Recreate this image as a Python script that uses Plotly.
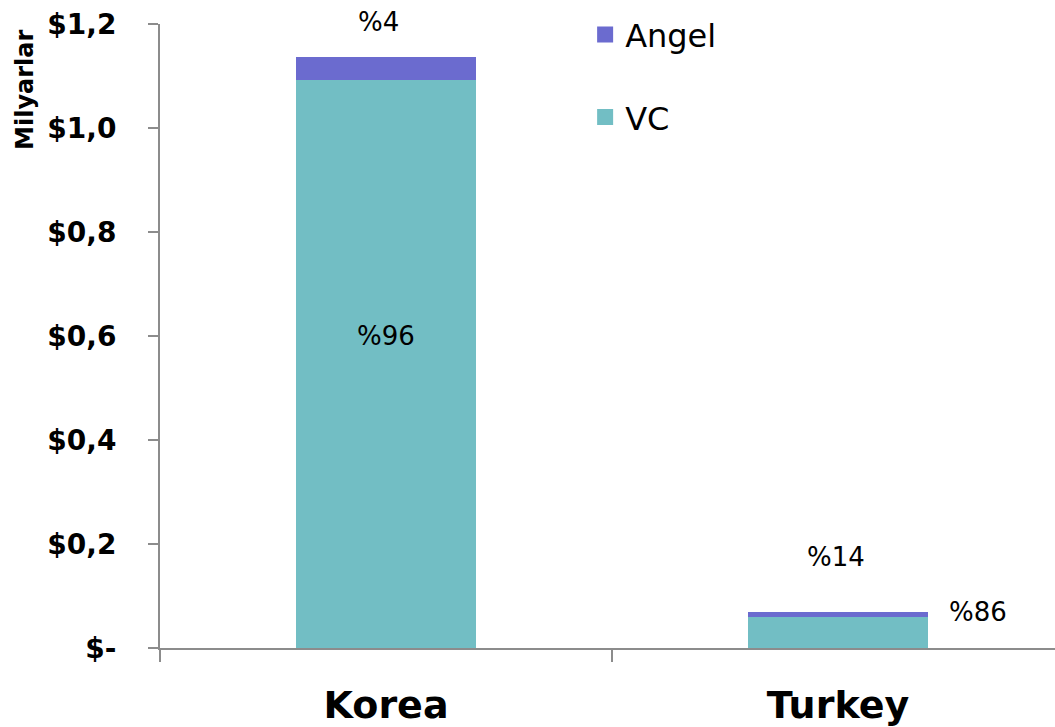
import plotly.graph_objects as go

# Investment volume by source, billions USD
countries = ["Korea", "Turkey"]
vc_values = [1.092, 0.060]
angel_values = [0.045, 0.0097]

# Y-axis tick labels
y_tick_vals = [0, 0.2, 0.4, 0.6, 0.8, 1.0, 1.2]
y_tick_text = ["$-", "$0,2", "$0,4", "$0,6", "$0,8", "$1,0", "$1,2"]

VC_COLOR = "#72BEC4"
ANGEL_COLOR = "#6B6BCF"
FONT = "DejaVu Sans"

fig = go.Figure()
fig.add_trace(go.Bar(
    x=countries, y=vc_values, name="VC", marker_color=VC_COLOR,
    width=0.4, marker_line_width=0, showlegend=False,
))
fig.add_trace(go.Bar(
    x=countries, y=angel_values, name="Angel", marker_color=ANGEL_COLOR,
    width=0.4, marker_line_width=0, showlegend=False,
))

# Legend entries with large square swatches
for name, color, group in [("Angel", ANGEL_COLOR, "a"), ("VC", VC_COLOR, "b")]:
    fig.add_trace(go.Scatter(
        x=[None], y=[None], mode="markers", name=name, legendgroup=group,
        marker=dict(symbol="square", size=20, color=color),
    ))

# Share labels computed from the stacked values
totals = [v + a for v, a in zip(vc_values, angel_values)]
vc_pct = [round(100 * v / t) for v, t in zip(vc_values, totals)]
angel_pct = [round(100 * a / t) for a, t in zip(angel_values, totals)]

label_font = dict(family=FONT, size=26, color="#000000")
# Korea
fig.add_annotation(x=0, y=totals[0], text=f"%{angel_pct[0]}", yanchor="middle",
                   showarrow=False, font=label_font, xshift=-8, yshift=35)
fig.add_annotation(x=0, y=vc_values[0] / 2, text=f"%{vc_pct[0]}", yanchor="middle",
                   showarrow=False, font=label_font, yshift=28)
# Turkey
fig.add_annotation(x=1, y=totals[1], text=f"%{angel_pct[1]}", yanchor="middle",
                   showarrow=False, font=label_font, xshift=-2, yshift=55)
fig.add_annotation(x=1, y=vc_values[1], text=f"%{vc_pct[1]}", yanchor="middle",
                   showarrow=False, font=label_font, xshift=140, yshift=5)

# Unit title
fig.add_annotation(xref="paper", yref="paper", x=-0.151, y=0.861,
                   xanchor="center", yanchor="middle",
                   text="<b>Milyarlar</b>", textangle=-90, showarrow=False,
                   font=dict(family=FONT, size=24, color="#000000"))

fig.update_layout(
    width=1055, height=727,
    margin=dict(l=160, r=0, t=0, b=79, autoexpand=False),
    barmode="stack",
    plot_bgcolor="white",
    paper_bgcolor="white",
    font=dict(family=FONT, color="#000000"),
    showlegend=True,
    legend=dict(
        x=0.475, y=0.989, xanchor="left", yanchor="top",
        traceorder="grouped", tracegroupgap=38,
        font=dict(family=FONT, size=32, color="#000000"),
        bgcolor="rgba(0,0,0,0)", itemwidth=30,
    ),
    xaxis=dict(
        automargin=False,
        range=[-0.5, 1.48], showline=True, linecolor="#8C8C8C", linewidth=2,
        ticks="outside", tickson="boundaries", ticklen=12, tickcolor="#8C8C8C",
        tickwidth=2, tickfont=dict(family=FONT, size=38, color="#000000", weight="bold"),
        ticklabelstandoff=22, showgrid=False, zeroline=False,
    ),
    yaxis=dict(
        automargin=False,
        domain=[0, 1 - 24 / 648],
        range=[0, 1.2], tickvals=y_tick_vals, ticktext=y_tick_text,
        showline=True, linecolor="#8C8C8C", linewidth=2,
        ticks="outside", ticklen=10, tickcolor="#8C8C8C", tickwidth=2,
        tickfont=dict(family=FONT, size=28, color="#000000", weight="bold"),
        ticklabelstandoff=26, showgrid=False, zeroline=False,
    ),
)

fig.write_html("out.html")
